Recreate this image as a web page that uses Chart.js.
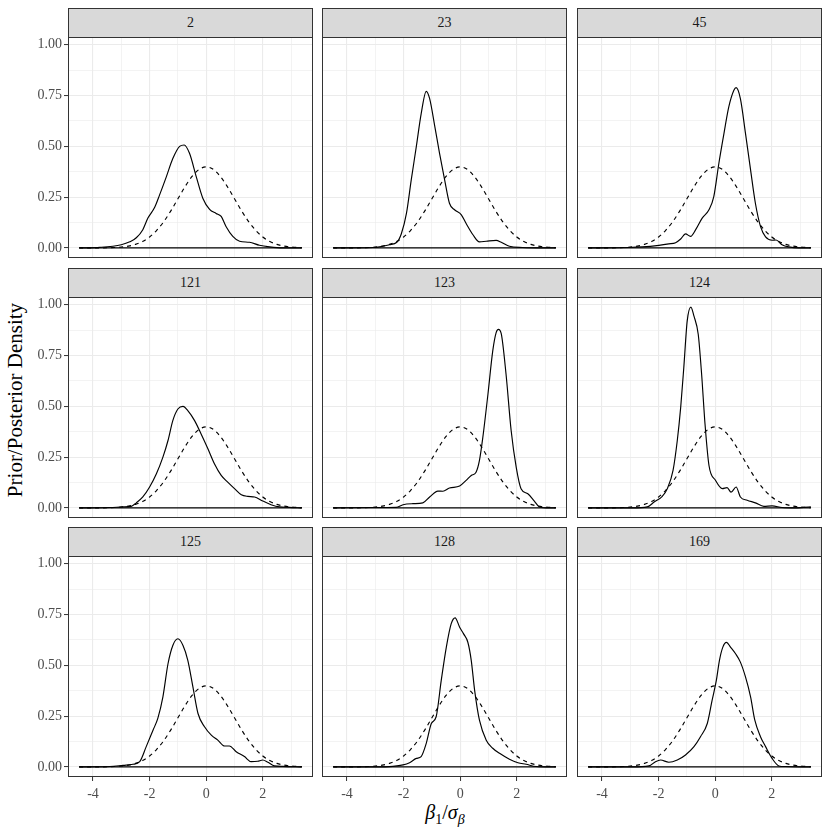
<!DOCTYPE html>
<html>
<head>
<meta charset="utf-8">
<script src="https://cdn.jsdelivr.net/npm/chart.js@4.4.1/dist/chart.umd.min.js"></script>
<style>
    body { margin: 0; background: #fff; }
    #page { position: relative; width: 830px; height: 830px; font-family: 'Liberation Serif', serif; }
    .strip {
        position: absolute; box-sizing: border-box; background: #d9d9d9; border: 1px solid #333;
        color: #1a1a1a; font-size: 14px; text-align: center;
    }
    .box { position: absolute; }
    .ytitle {
        position: absolute; left: 15px; top: 400px; transform: translate(-50%, -50%) rotate(-90deg);
        font-size: 21px; color: #000; white-space: nowrap;
    }
    .xtitle {
        position: absolute; left: 445px; top: 814px; transform: translate(-50%, -50%);
        font-size: 20px; color: #000; white-space: nowrap;
    }
    .xtitle sub { font-size: 14px; }
</style>
</head>
<body>
<div id="page">
    <div class="ytitle">Prior/Posterior Density</div>
    <div class="xtitle"><i>β</i><sub>1</sub>/<i>σ</i><sub><i>β</i></sub></div>
</div>
<script>
// facet labels
const panelLabels = ['2', '23', '45', '121', '123', '124', '125', '128', '169'];

// axis breaks (labelled); the odd ones in between are minor grid lines
const xBreaks = [-4, -2, 0, 2];
const yBreaks = [0, 0.25, 0.5, 0.75, 1];

// prior density (dashed), same in every panel
const priorX = [-4.49, -4.25, -4, -3.75, -3.5, -3.25, -3, -2.75, -2.5, -2.25, -2, -1.75, -1.5, -1.25, -1, -0.75, -0.5, -0.25,
    0, 0.25, 0.5, 0.75, 1, 1.25, 1.5, 1.75, 2, 2.25, 2.5, 2.75, 3, 3.25, 3.38];
const priorY = [0, 0.0001, 0.0001, 0.0004, 0.0009, 0.002, 0.0044, 0.0091, 0.0175, 0.0317, 0.054, 0.0863, 0.1295, 0.1826, 0.242, 0.3011, 0.3521, 0.3867,
    0.3989, 0.3867, 0.3521, 0.3011, 0.242, 0.1826, 0.1295, 0.0863, 0.054, 0.0317, 0.0175, 0.0091, 0.0044, 0.002, 0.0013];

// posterior densities (solid), one row per panel
const postX = [
    [-4.49, -3.76, -3, -2.7, -2.47, -2.24, -2.06, -1.82, -1.65, -1.41, -1.18, -0.94, -0.78, -0.59, -0.35, -0.12, 0.12, 0.35, 0.53, 0.7, 0.94, 1.18, 1.53, 1.88, 2.24, 2.7, 3.38],
    [-4.49, -3.08, -2.85, -2.5, -2.24, -2.08, -1.9, -1.73, -1.55, -1.38, -1.2, -1.08, -0.9, -0.73, -0.55, -0.38, -0.2, 0.04, 0.21, 0.45, 0.68, 0.92, 1.27, 1.45, 1.74, 2.2, 2.92, 3.38],
    [-4.49, -3.05, -2.58, -1.99, -1.64, -1.4, -1.22, -1.05, -0.87, -0.69, -0.46, -0.22, -0.05, 0.13, 0.31, 0.48, 0.66, 0.74, 0.89, 1.07, 1.25, 1.42, 1.6, 1.78, 2.01, 2.15, 2.36, 2.6, 2.95, 3.38],
    [-4.49, -3.41, -2.94, -2.65, -2.47, -2.24, -2, -1.76, -1.53, -1.35, -1.18, -1, -0.82, -0.65, -0.41, -0.18, 0.06, 0.29, 0.53, 0.76, 1, 1.24, 1.47, 1.71, 2, 2.29, 2.59, 2.94, 3.38],
    [-4.49, -3.08, -2.26, -2.02, -1.67, -1.32, -1.08, -0.79, -0.61, -0.38, -0.02, 0.21, 0.39, 0.56, 0.68, 0.8, 0.98, 1.15, 1.27, 1.35, 1.45, 1.62, 1.8, 1.98, 2.15, 2.39, 2.62, 2.8, 3.15, 3.38],
    [-4.49, -2.93, -2.4, -2.16, -1.87, -1.69, -1.49, -1.34, -1.22, -1.11, -0.99, -0.86, -0.75, -0.6, -0.48, -0.36, -0.22, 0.01, 0.25, 0.42, 0.56, 0.74, 0.89, 1.13, 1.42, 1.72, 2.01, 2.36, 2.84, 3.13, 3.38],
    [-4.49, -3.41, -2.94, -2.59, -2.35, -2.12, -1.88, -1.71, -1.53, -1.35, -1.18, -1, -0.82, -0.65, -0.47, -0.29, -0.06, 0.18, 0.41, 0.65, 0.82, 1.06, 1.35, 1.59, 1.82, 2, 2.18, 2.41, 2.71, 3.38],
    [-4.49, -2.96, -2.38, -2.02, -1.79, -1.55, -1.38, -1.2, -1.02, -0.85, -0.67, -0.49, -0.32, -0.18, -0.02, 0.12, 0.27, 0.39, 0.51, 0.68, 0.92, 1.15, 1.39, 1.74, 2.04, 2.33, 2.68, 3.15, 3.38],
    [-4.49, -2.93, -2.34, -2.11, -1.93, -1.64, -1.34, -1.05, -0.75, -0.52, -0.28, -0.11, 0.04, 0.15, 0.27, 0.4, 0.54, 0.72, 0.89, 1.07, 1.25, 1.4, 1.6, 1.78, 2.01, 2.25, 2.48, 3.38]
];
const postY = [
    [0, 0.003, 0.016, 0.03, 0.05, 0.09, 0.147, 0.2, 0.26, 0.35, 0.44, 0.5, 0.507, 0.466, 0.35, 0.245, 0.19, 0.17, 0.155, 0.106, 0.057, 0.033, 0.028, 0.013, 0.005, 0, 0],
    [0, 0.002, 0.005, 0.016, 0.028, 0.07, 0.17, 0.335, 0.5, 0.66, 0.771, 0.735, 0.6, 0.466, 0.335, 0.22, 0.188, 0.163, 0.12, 0.065, 0.03, 0.033, 0.037, 0.028, 0.008, 0.002, 0, 0],
    [0, 0.002, 0.005, 0.013, 0.02, 0.026, 0.044, 0.069, 0.057, 0.09, 0.147, 0.188, 0.253, 0.417, 0.564, 0.694, 0.776, 0.789, 0.735, 0.564, 0.384, 0.22, 0.106, 0.054, 0.038, 0.039, 0.016, 0.005, 0, 0],
    [0, 0.002, 0.005, 0.008, 0.025, 0.054, 0.103, 0.168, 0.25, 0.332, 0.43, 0.487, 0.5, 0.479, 0.43, 0.364, 0.291, 0.217, 0.16, 0.127, 0.095, 0.065, 0.057, 0.054, 0.034, 0.016, 0.005, 0.003, 0],
    [0, 0.002, 0.003, 0.016, 0.021, 0.025, 0.054, 0.083, 0.082, 0.098, 0.108, 0.136, 0.16, 0.176, 0.234, 0.348, 0.56, 0.773, 0.863, 0.879, 0.858, 0.658, 0.381, 0.2, 0.095, 0.07, 0.034, 0.005, 0, 0],
    [0, 0, 0.005, 0.029, 0.057, 0.095, 0.185, 0.332, 0.495, 0.691, 0.92, 0.989, 0.944, 0.855, 0.658, 0.413, 0.209, 0.136, 0.095, 0.1, 0.078, 0.103, 0.054, 0.038, 0.025, 0.008, 0.01, 0.002, 0, 0.003, 0.005],
    [0, 0.002, 0.008, 0.013, 0.026, 0.1, 0.181, 0.239, 0.345, 0.508, 0.598, 0.631, 0.598, 0.525, 0.394, 0.263, 0.198, 0.157, 0.132, 0.103, 0.103, 0.075, 0.051, 0.026, 0.028, 0.034, 0.023, 0.005, 0.003, 0],
    [0, 0, 0.003, 0.01, 0.021, 0.042, 0.051, 0.116, 0.214, 0.247, 0.426, 0.59, 0.704, 0.734, 0.688, 0.655, 0.614, 0.525, 0.377, 0.23, 0.132, 0.092, 0.067, 0.038, 0.021, 0.013, 0.002, 0, 0],
    [0, 0, 0.005, 0.026, 0.034, 0.023, 0.034, 0.059, 0.1, 0.149, 0.214, 0.328, 0.426, 0.525, 0.59, 0.613, 0.59, 0.557, 0.516, 0.443, 0.345, 0.23, 0.149, 0.1, 0.042, 0.005, 0.002, 0]
];

// layout of the facet grid (pixels)
const colLeft = [68, 322, 577];
const rowTop = [8, 268, 527];
const plotW = 245, stripH = 29, plotH = 221;
const axisW = 68, axisH = 28;

const xMin = -4.884, xMax = 3.774;
const yMin = -0.0495, yMax = 1.0385;

const isBreak = (breaks, v) => breaks.some(b => Math.abs(b - v) < 1e-6);

const panelBorder = {
    id: 'panelBorder',
    afterDraw(chart) {
        const a = chart.chartArea;
        const ctx = chart.ctx;
        ctx.save();
        ctx.strokeStyle = '#333333';
        ctx.lineWidth = 1;
        ctx.strokeRect(a.left + 0.5, a.top + 0.5, a.right - a.left - 1, a.bottom - a.top - 1);
        ctx.restore();
    }
};

function toPoints(xs, ys) {
    return xs.map((x, k) => ({ x: x, y: ys[k] }));
}

// keep the plot area fixed: no extra room for overhanging tick labels
function fixAxis(scale, w, h) {
    if (w !== null) scale.width = w;
    if (h !== null) scale.height = h;
    scale.paddingTop = 0;
    scale.paddingBottom = 0;
    scale.paddingLeft = 0;
    scale.paddingRight = 0;
}

function buildPanel(i) {
    const r = Math.floor(i / 3), c = i % 3;
    const page = document.getElementById('page');
    const showY = c === 0, showX = r === 2;

    const strip = document.createElement('div');
    strip.className = 'strip';
    strip.style.left = colLeft[c] + 'px';
    strip.style.top = rowTop[r] + 'px';
    strip.style.width = plotW + 'px';
    strip.style.height = (stripH + 1) + 'px';
    strip.style.lineHeight = (stripH - 1) + 'px';
    strip.textContent = panelLabels[i];
    page.appendChild(strip);

    const box = document.createElement('div');
    box.className = 'box';
    box.style.left = (showY ? colLeft[c] - axisW : colLeft[c]) + 'px';
    box.style.top = (rowTop[r] + stripH) + 'px';
    box.style.width = (plotW + (showY ? axisW : 0)) + 'px';
    box.style.height = (plotH + (showX ? axisH : 0)) + 'px';
    const canvas = document.createElement('canvas');
    box.appendChild(canvas);
    page.appendChild(box);

    const tickFont = { family: "'Liberation Serif', serif", size: 14 };

    new Chart(canvas, {
        type: 'line',
        data: {
            datasets: [
                {
                    data: toPoints(postX[i], postY[i]),
                    borderColor: '#000',
                    borderWidth: 1.15,
                    cubicInterpolationMode: 'monotone',
                    pointRadius: 0
                },
                {
                    data: toPoints(priorX, priorY),
                    borderColor: '#000',
                    borderWidth: 1.15,
                    borderDash: [4, 4],
                    cubicInterpolationMode: 'monotone',
                    pointRadius: 0
                },
                {
                    data: [{ x: priorX[0], y: 0 }, { x: priorX[priorX.length - 1], y: 0 }],
                    borderColor: '#000',
                    borderWidth: 1.15,
                    pointRadius: 0
                }
            ]
        },
        options: {
            responsive: true,
            maintainAspectRatio: false,
            animation: false,
            events: [],
            layout: { padding: 0 },
            plugins: { legend: { display: false }, tooltip: { enabled: false } },
            scales: {
                x: {
                    type: 'linear',
                    min: xMin,
                    max: xMax,
                    border: { display: false },
                    grid: {
                        color: '#ebebeb',
                        lineWidth: ctx => isBreak(xBreaks, ctx.tick.value) ? 1.1 : 0.6,
                        drawTicks: showX,
                        tickLength: 4,
                        tickWidth: 1,
                        tickColor: ctx => isBreak(xBreaks, ctx.tick.value) ? '#333333' : 'rgba(0,0,0,0)'
                    },
                    ticks: {
                        display: showX,
                        stepSize: 1,
                        includeBounds: false,
                        autoSkip: false,
                        maxRotation: 0,
                        padding: 5,
                        color: '#4d4d4d',
                        font: tickFont,
                        callback: v => isBreak(xBreaks, v) ? String(v) : ''
                    },
                    afterFit: scale => fixAxis(scale, null, showX ? axisH : 0)
                },
                y: {
                    type: 'linear',
                    min: yMin,
                    max: yMax,
                    border: { display: false },
                    grid: {
                        color: '#ebebeb',
                        lineWidth: ctx => isBreak(yBreaks, ctx.tick.value) ? 1.1 : 0.6,
                        drawTicks: showY,
                        tickLength: 4,
                        tickWidth: 1,
                        tickColor: ctx => isBreak(yBreaks, ctx.tick.value) ? '#333333' : 'rgba(0,0,0,0)'
                    },
                    ticks: {
                        display: showY,
                        stepSize: 0.125,
                        includeBounds: false,
                        autoSkip: false,
                        padding: 2,
                        color: '#4d4d4d',
                        font: tickFont,
                        callback: v => isBreak(yBreaks, v) ? v.toFixed(2) : ''
                    },
                    afterFit: scale => fixAxis(scale, showY ? axisW : 0, null)
                }
            }
        },
        plugins: [panelBorder]
    });
}

panelLabels.forEach((label, i) => buildPanel(i));
</script>
</body>
</html>
